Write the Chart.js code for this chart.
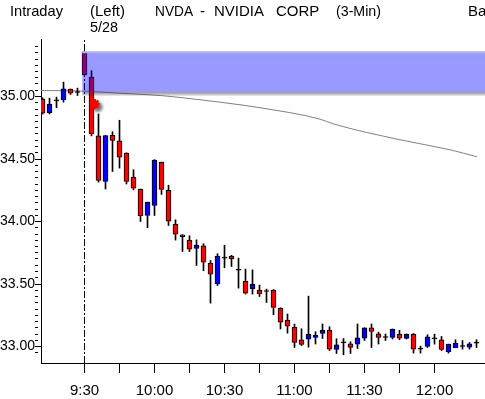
<!DOCTYPE html>
<html>
<head>
<meta charset="utf-8">
<script src="https://cdn.jsdelivr.net/npm/chart.js@4.4.1/dist/chart.umd.min.js"></script>
<style>
  html, body { margin: 0; padding: 0; background: #fff; }
  canvas { display: block; }
</style>
</head>
<body>
<canvas id="chart" width="485" height="399"></canvas>
<script>
// 3-min bars, minutes since midnight (570 = 9:30)
const barTimes = [552, 555, 558, 561, 564, 567, 570, 573, 576, 579, 582, 585, 588, 591, 594, 597,
    600, 603, 606, 609, 612, 615, 618, 621, 624, 627, 630, 633, 636, 639, 642, 645, 648, 651, 654,
    657, 660, 663, 666, 669, 672, 675, 678, 681, 684, 687, 690, 693, 696, 699, 702, 705, 708, 711,
    714, 717, 720, 723, 726, 729, 732, 735, 738];
const opens = [34.98, 34.87, 34.965, 34.974, 35.059, 35.032, 35.355, 35.155, 34.686, 34.32, 34.69,
    34.646, 34.547, 34.355, 34.26, 34.048, 34.128, 34.475, 34.25, 33.979, 33.894, 33.851, 33.784,
    33.806, 33.667, 33.50, 33.707, 33.723, 33.61, 33.523, 33.46, 33.451, 33.448, 33.451, 33.307,
    33.211, 33.155, 33.053, 33.059, 33.072, 33.104, 33.131, 32.976, 33.03, 33.022, 33.019, 33.067,
    33.15, 33.102, 33.072, 33.072, 33.099, 33.064, 33.099, 32.979, 33.0, 33.062, 33.054, 32.958,
    32.99, 33.0, 32.995, 33.027];
const highs = [34.99, 34.987, 34.995, 35.115, 35.06, 35.067, 35.36, 35.206, 34.86, 34.69, 34.718,
    34.81, 34.55, 34.414, 34.26, 34.155, 34.495, 34.475, 34.29, 34.014, 33.894, 33.886, 33.853,
    33.822, 33.688, 33.742, 33.81, 33.73, 33.707, 33.619, 33.613, 33.491, 33.459, 33.455, 33.31,
    33.26, 33.179, 33.142, 33.403, 33.118, 33.18, 33.158, 33.062, 33.064, 33.038, 33.18, 33.15,
    33.18, 33.115, 33.10, 33.14, 33.13, 33.10, 33.104, 33.003, 33.094, 33.099, 33.08, 33.019,
    33.054, 33.048, 33.032, 33.054];
const lows = [34.86, 34.86, 34.91, 34.955, 35.016, 35.008, 35.17, 34.685, 34.315, 34.26, 34.40,
    34.427, 34.30, 34.253, 34.00, 33.95, 34.048, 34.217, 33.968, 33.851, 33.76, 33.76, 33.648,
    33.606, 33.347, 33.488, 33.63, 33.64, 33.467, 33.419, 33.419, 33.40, 33.352, 33.254, 33.14,
    33.107, 32.992, 33.008, 32.995, 33.02, 33.064, 32.968, 32.944, 32.934, 32.944, 32.984, 33.048,
    32.992, 33.02, 33.048, 33.06, 33.054, 33.06, 32.947, 32.947, 32.992, 33.019, 32.968, 32.947,
    32.99, 32.979, 32.979, 32.992];
const closes = [34.867, 34.94, 34.965, 35.062, 35.027, 35.032, 35.174, 34.70, 34.328, 34.688, 34.648,
    34.515, 34.32, 34.267, 34.046, 34.155, 34.491, 34.256, 34.003, 33.899, 33.878, 33.779, 33.811,
    33.675, 33.579, 33.723, 33.707, 33.70, 33.61, 33.427, 33.499, 33.422, 33.44, 33.312, 33.195,
    33.163, 33.032, 33.016, 33.099, 33.091, 33.131, 32.979, 33.014, 33.03, 32.992, 33.07, 33.15,
    33.12, 33.072, 33.072, 33.14, 33.067, 33.099, 32.979, 32.979, 33.078, 33.062, 32.976, 33.019,
    33.027, 33.0, 33.022, 33.027];

// long moving average, read at a few places
const maTimes = [551.4, 569.8, 585.2, 602.4, 619.5, 645.2, 670.9, 676.5, 705.2, 726.6, 738.2];
const maValues = [35.048, 35.043, 35.026, 35.008, 34.974, 34.91, 34.819, 34.782, 34.654, 34.574, 34.518];

// shaded zone from the open
const bandStart = 569;
const bandTop = 35.355;
const bandBottom = 35.04;

// alert mark
const markTime = 574.4;
const markValue = 34.94;

const openTime = 570;
const yLabels = ['33.00', '33.50', '34.00', '34.50', '35.00'];
const xTickTimes = [570, 600, 630, 660, 690, 720];
const xTickLabels = ['9:30', '10:00', '10:30', '11:00', '11:30', '12:00'];

// header words: text, left x, baseline y, max width
const headerWords = [
    ['Intraday', 10, 16, 53],
    ['(Left)', 90, 16, 45],
    ['NVDA', 155, 16, 38],
    ['-', 200, 16, 7],
    ['NVIDIA', 214, 16, 54],
    ['CORP', 276, 16, 48],
    ['(3-Min)', 336, 16, 45],
    ['Ba', 468, 16, 20],
    ['5/28', 90, 32, 28]
];

const X_MIN = 551.357143, X_MAX = 741.642857;
const Y_MIN = 32.868, Y_MAX = 35.46;

const FONT_FAMILY = "'Liberation Sans', Arial, sans-serif";

const wickData = barTimes.map((t, i) => ({ x: t, y: [lows[i], highs[i]] }));
const bodyData = barTimes.map((t, i) => ({ x: t, y: [opens[i], closes[i]] }));
const bodyColors = barTimes.map((t, i) =>
    closes[i] > opens[i] ? '#0000ff' : (closes[i] < opens[i] ? '#ff0000' : '#000000'));

const headerPlugin = {
    id: 'header',
    afterDraw(chart) {
        const ctx = chart.ctx;
        ctx.save();
        ctx.fillStyle = '#000';
        ctx.font = '15px ' + FONT_FAMILY;
        ctx.textBaseline = 'alphabetic';
        headerWords.forEach(w => ctx.fillText(w[0], w[1], w[2], w[3]));
        ctx.restore();
    }
};

const shadowPlugin = {
    id: 'markShadow',
    beforeDatasetDraw(chart, args) {
        if (chart.data.datasets[args.index].shadow) {
            const c = chart.ctx;
            c.save();
            c.shadowColor = 'rgba(0,0,0,0.55)';
            c.shadowBlur = 3;
            c.shadowOffsetX = 3;
            c.shadowOffsetY = 3;
        }
    },
    afterDatasetDraw(chart, args) {
        if (chart.data.datasets[args.index].shadow) chart.ctx.restore();
    }
};

new Chart(document.getElementById('chart'), {
    type: 'bar',
    data: {
        datasets: [
            {
                type: 'line',
                data: [{ x: openTime, y: Y_MIN }, { x: openTime, y: Y_MAX }],
                borderColor: '#000',
                borderWidth: 1,
                borderDash: [7, 2, 2, 2],
                pointRadius: 0,
                pointHoverRadius: 0,
                order: 7
            },
            {
                type: 'line',
                data: maTimes.map((t, i) => ({ x: t, y: maValues[i] })),
                borderColor: '#808080',
                borderWidth: 1,
                pointRadius: 0,
                pointHoverRadius: 0,
                cubicInterpolationMode: 'monotone',
                order: 6
            },
            {
                type: 'bar',
                data: wickData,
                backgroundColor: '#000',
                borderWidth: 0,
                barThickness: 1,
                grouped: false,
                order: 5
            },
            {
                type: 'bar',
                data: bodyData,
                backgroundColor: bodyColors,
                borderColor: '#000',
                borderWidth: 1,
                borderSkipped: false,
                barThickness: 5,
                minBarLength: 1,
                grouped: false,
                order: 4
            },
            {
                type: 'line',
                data: [{ x: bandStart, y: bandBottom }, { x: X_MAX, y: bandBottom }],
                borderWidth: 0,
                pointRadius: 0,
                pointHoverRadius: 0,
                fill: { value: bandBottom - 0.04 },
                backgroundColor: (c) => {
                    const chart = c.chart;
                    if (!chart.chartArea) return 'rgba(0,0,0,0.2)';
                    const y0 = chart.scales.y.getPixelForValue(bandBottom);
                    const g = chart.ctx.createLinearGradient(0, y0, 0, y0 + 5);
                    g.addColorStop(0, 'rgba(70,70,100,0.6)');
                    g.addColorStop(1, 'rgba(0,0,0,0)');
                    return g;
                },
                order: 3
            },
            {
                type: 'line',
                data: [{ x: bandStart, y: bandTop }, { x: X_MAX, y: bandTop }],
                borderColor: 'rgba(175,175,255,1)',
                borderWidth: 2,
                pointRadius: 0,
                pointHoverRadius: 0,
                fill: { value: bandBottom },
                backgroundColor: 'rgba(0,0,255,0.4)',
                order: 2
            },
            {
                type: 'line',
                data: [{ x: markTime, y: markValue }],
                showLine: false,
                pointStyle: 'star',
                pointRadius: 5,
                pointBorderColor: '#ff0000',
                pointBackgroundColor: '#ff0000',
                pointBorderWidth: 2.5,
                shadow: true,
                order: 1
            }
        ]
    },
    options: {
        responsive: false,
        animation: false,
        events: [],
        layout: { autoPadding: false, padding: { top: 39, left: 0, right: 0, bottom: 0 } },
        plugins: { legend: { display: false }, tooltip: { enabled: false } },
        scales: {
            x: {
                type: 'linear',
                min: X_MIN,
                max: X_MAX,
                offset: false,
                afterFit: s => { s.height = 36; s.paddingLeft = 0; s.paddingRight = 0; },
                afterBuildTicks: s => { s.ticks = s.ticks.filter(t => t.value % 15 === 0); },
                ticks: {
                    stepSize: 15,
                    autoSkip: false,
                    maxRotation: 0,
                    padding: 9,
                    color: '#000',
                    font: { family: FONT_FAMILY, size: 15 },
                    callback: v => {
                        const i = xTickTimes.indexOf(v);
                        return i >= 0 ? xTickLabels[i] : '';
                    }
                },
                grid: { offset: false, drawOnChartArea: false, tickLength: 10, tickColor: '#000' },
                border: { color: '#000', width: 1 }
            },
            y: {
                min: Y_MIN,
                max: Y_MAX,
                afterFit: s => { s.width = 41; s.paddingTop = 0; s.paddingBottom = 0; },
                afterBuildTicks: s => {
                    s.ticks = s.ticks.filter(t => Math.abs(t.value * 20 - Math.round(t.value * 20)) < 1e-6);
                },
                ticks: {
                    stepSize: 0.05,
                    autoSkip: false,
                    padding: 0,
                    color: '#000',
                    font: { family: FONT_FAMILY, size: 14 },
                    callback: v => {
                        const s = v.toFixed(2);
                        return yLabels.includes(s) ? s : '';
                    }
                },
                grid: {
                    drawOnChartArea: false,
                    tickLength: 6,
                    tickColor: '#000',
                    tickBorderDash: c => yLabels.includes(c.tick.value.toFixed(2)) ? [] : [3, 20]
                },
                border: { color: '#000', width: 1 }
            }
        }
    },
    plugins: [headerPlugin, shadowPlugin]
});
</script>
</body>
</html>
